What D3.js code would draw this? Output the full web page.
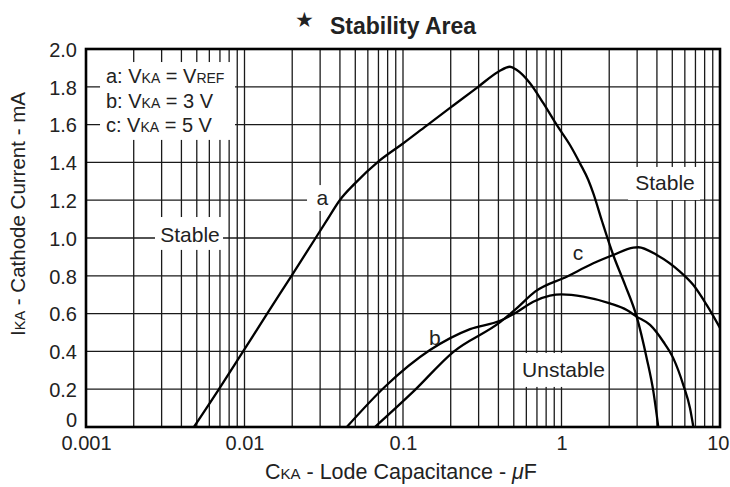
<!DOCTYPE html>
<html><head><meta charset="utf-8">
<script src="https://cdn.jsdelivr.net/npm/d3@7"></script>
<style>
html,body{margin:0;padding:0;background:#fff;}
svg{display:block;}
text{font-family:"Liberation Sans",Arial,Helvetica,sans-serif;fill:#222;}
</style></head>
<body><svg id="chart" width="730" height="487"></svg>
<script>
// ---- data ----
const xTickValues = [0.001, 0.01, 0.1, 1, 10];
const xTickLabels = ["0.001", "0.01", "0.1", "1", "10"];
const yTickValues = [0, 0.2, 0.4, 0.6, 0.8, 1.0, 1.2, 1.4, 1.6, 1.8, 2.0];
const yTickLabels = ["0", "0.2", "0.4", "0.6", "0.8", "1.0", "1.2", "1.4", "1.6", "1.8", "2.0"];

// curve a: VKA = VREF
const capA = [0.0048, 0.0069, 0.0098, 0.0139, 0.0198, 0.0281, 0.0329, 0.0399, 0.0498, 0.0698, 0.1, 0.141, 0.203, 0.298, 0.40, 0.473, 0.52, 0.633, 0.768, 0.933, 1.131, 1.308, 1.476, 1.588, 1.80, 2.12, 2.52, 2.98, 3.45, 3.80, 4.08];
const curA = [0, 0.2, 0.4, 0.6, 0.8, 1.0, 1.09, 1.2, 1.289, 1.404, 1.50, 1.595, 1.695, 1.80, 1.88, 1.906, 1.89, 1.819, 1.713, 1.598, 1.492, 1.395, 1.307, 1.236, 1.09, 0.91, 0.751, 0.584, 0.363, 0.187, 0];
// curve b: VKA = 3 V
const capB = [0.0442, 0.0769, 0.148, 0.265, 0.41, 0.521, 0.664, 0.846, 1.0, 1.373, 2.02, 2.58, 2.98, 3.62, 4.39, 5.08, 5.87, 6.47, 6.79];
const curB = [0, 0.213, 0.407, 0.518, 0.562, 0.607, 0.663, 0.695, 0.702, 0.690, 0.654, 0.619, 0.584, 0.540, 0.451, 0.363, 0.222, 0.099, 0];
// curve c: VKA = 5 V
const capC = [0.0665, 0.116, 0.208, 0.41, 0.521, 0.681, 1.078, 1.587, 2.12, 2.84, 3.05, 3.99, 5.59, 6.79, 8.24, 10];
const curC = [0, 0.187, 0.398, 0.555, 0.628, 0.716, 0.795, 0.866, 0.910, 0.949, 0.951, 0.910, 0.822, 0.751, 0.646, 0.524];

const seriesNames = ["a", "b", "c"];
const legendLines = [
  [["a: V", 0], ["KA", 1], [" = V", 0], ["REF", 1]],
  [["b: V", 0], ["KA", 1], [" = 3 V", 0]],
  [["c: V", 0], ["KA", 1], [" = 5 V", 0]]
];

// ---- layout ----
const L = 86, R = 720, T = 49, B = 427;
const svg = d3.select("#chart");
const x = d3.scaleLog().domain([0.001, 10]).range([L, R]);
const y = d3.scaleLinear().domain([0, 2]).range([B, T]);

// grid
const minor = [];
for (let e = -3; e <= 0; e++) for (let m = 1; m <= 9; m++) minor.push(m * Math.pow(10, e));
const grid = svg.append("g").attr("stroke", "#1a1a1a").attr("stroke-width", 1.3);
grid.selectAll("line.v").data(minor.filter(v => v > 0.001)).join("line")
  .attr("x1", d => x(d)).attr("x2", d => x(d)).attr("y1", T).attr("y2", B);
grid.selectAll("line.h").data(yTickValues.filter(v => v > 0 && v < 2)).join("line")
  .attr("x1", L).attr("x2", R).attr("y1", d => y(d)).attr("y2", d => y(d));

// white label boxes (placed in data coordinates)
const boxes = svg.append("g").attr("fill", "#fff");
function box(x0, y0, x1, y1) {
  boxes.append("rect").attr("x", x(x0)).attr("y", y(y0))
    .attr("width", x(x1) - x(x0)).attr("height", y(y1) - y(y0));
}
box(0.001226, 1.931, 0.00871, 1.519); // legend
box(0.002724, 1.111, 0.00732, 0.937); // Stable left
box(2.63, 1.376, 7.48, 1.201);        // Stable right
box(0.516, 0.392, 1.94, 0.212);       // Unstable
box(0.0248, 1.28, 0.0395, 1.143);     // a

// curves
const line = d3.line().x(d => x(d[0])).y(d => y(d[1])).curve(d3.curveMonotoneX);
const curves = [d3.zip(capA, curA), d3.zip(capB, curB), d3.zip(capC, curC)];
svg.append("g").selectAll("path").data(curves).join("path")
  .attr("d", line).attr("fill", "none").attr("stroke", "#000").attr("stroke-width", 2.3)
  .attr("stroke-linejoin", "round");

// frame
svg.append("rect").attr("x", L).attr("y", T).attr("width", R - L).attr("height", B - T)
  .attr("fill", "none").attr("stroke", "#000").attr("stroke-width", 2.6);

// axes labels
const xAxis = d3.axisBottom(x).tickValues(xTickValues).tickFormat((d, i) => xTickLabels[i]).tickSize(0).tickPadding(0);
const gx = svg.append("g").attr("transform", `translate(0,${B})`).call(xAxis);
gx.select(".domain").remove();
gx.selectAll("text").attr("dy", null).attr("y", 23).attr("font-size", 20).attr("font-family", null).attr("fill", "#222");
gx.selectAll(".tick").filter(d => d === 10).select("text").attr("text-anchor", "end").attr("x", 729 - R);

const yAxis = d3.axisLeft(y).tickValues(yTickValues).tickFormat((d, i) => yTickLabels[i]).tickSize(0).tickPadding(0);
const gy = svg.append("g").attr("transform", `translate(${L - 9},0)`).call(yAxis);
gy.select(".domain").remove();
gy.selectAll("text").attr("dy", d => d === 0 ? "-0.02em" : "0.36em").attr("x", 0)
  .attr("font-size", 20).attr("font-family", null).attr("fill", "#222");

// axis titles
const xt = svg.append("text").attr("x", 401).attr("y", 479).attr("text-anchor", "middle").attr("font-size", 21.5);
xt.append("tspan").text("C");
xt.append("tspan").text("KA").attr("font-size", 15);
xt.append("tspan").text(" - Lode Capacitance -  ");
xt.append("tspan").text("μ").attr("font-style", "italic");
xt.append("tspan").text("F");

const yt = svg.append("text").attr("transform", "translate(25,214) rotate(-90)").attr("text-anchor", "middle").attr("font-size", 20.5);
yt.append("tspan").text("I");
yt.append("tspan").text("KA").attr("font-size", 14.5);
yt.append("tspan").text(" - Cathode Current - mA");

// title
svg.append("text").attr("x", 304).attr("y", 27).attr("text-anchor", "middle")
  .attr("font-family", "DejaVu Sans").attr("font-size", 21).attr("fill", "#000").text("★");
svg.append("text").attr("x", 330).attr("y", 34).attr("font-size", 23).attr("font-weight", "bold").attr("fill", "#111").text("Stability Area");

// legend
legendLines.forEach((parts, i) => {
  const t = svg.append("text").attr("x", x(0.001337)).attr("y", 83 + i * 24.7).attr("font-size", 20);
  parts.forEach(p => t.append("tspan").text(p[0]).attr("font-size", p[1] ? 14 : null));
});

// region labels
function lab(txt, xv, yv) {
  svg.append("text").attr("x", x(xv)).attr("y", y(yv)).attr("text-anchor", "middle").attr("font-size", 21).text(txt);
}
lab("Stable", 0.00453, 0.979);
lab("Stable", 4.5, 1.254);
lab("Unstable", 1.03, 0.265);
lab(seriesNames[0], 0.031, 1.175);
lab(seriesNames[1], 0.159, 0.434);
lab(seriesNames[2], 1.27, 0.884);
</script></body></html>
